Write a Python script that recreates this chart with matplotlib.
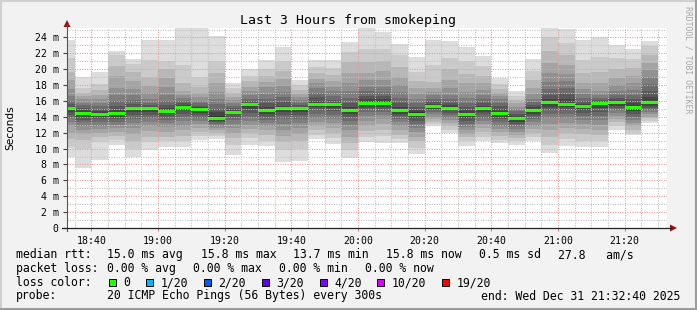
import matplotlib
matplotlib.use("Agg")
import matplotlib.pyplot as plt
from matplotlib.lines import Line2D
from matplotlib.patches import Polygon, Rectangle

plt.rcParams['font.family'] = ['DejaVu Sans Mono']

# ---------------------------------------------------------------
# data
# ---------------------------------------------------------------
# left edge of each 5 min bucket, minutes after 18:00
bucket_min = list(range(30, 210, 5))

# median rtt per bucket (ms)
median_ms = [15.0, 14.4, 14.35, 14.4, 15.0, 15.0, 14.7, 15.2, 14.9, 13.85,
             14.6, 15.5, 14.85, 15.0, 15.0, 15.6, 15.5, 14.8, 15.7, 15.7,
             14.8, 14.35, 15.3, 15.1, 14.25, 15.0, 14.4, 13.75, 14.85, 15.75,
             15.6, 15.3, 15.65, 15.75, 15.15, 15.8]

# 20 pings per bucket (ms), sorted high -> low
smoke_ms = [
    [23.65, 21.4, 19.7, 18.6, 17.5, 16.6, 16.0, 15.6, 15.3, 15.1, 14.9, 14.6, 14.2, 13.8, 13.3, 12.8, 12.0, 11.2, 10.2, 8.9],
    [19.0, 17.6, 17.0, 16.6, 16.2, 15.8, 15.5, 15.1, 14.8, 14.5, 14.3, 14.0, 13.6, 13.3, 12.8, 12.3, 11.8, 11.1, 10.0, 7.6],
    [19.7, 18.1, 17.4, 16.8, 16.3, 15.8, 15.4, 15.0, 14.7, 14.45, 14.25, 14.0, 13.7, 13.3, 12.9, 12.5, 12.0, 11.5, 10.8, 8.6],
    [22.3, 21.8, 20.4, 19.2, 17.6, 16.8, 16.0, 15.4, 14.9, 14.5, 14.3, 14.0, 13.7, 13.4, 13.0, 12.6, 12.1, 11.6, 11.1, 10.5],
    [21.3, 20.7, 19.6, 18.5, 17.5, 16.7, 16.1, 15.6, 15.3, 15.1, 14.9, 14.6, 14.2, 13.7, 13.2, 12.6, 11.9, 11.0, 10.0, 8.9],
    [23.65, 21.1, 19.0, 17.9, 17.0, 16.3, 15.8, 15.5, 15.2, 15.05, 14.9, 14.6, 14.2, 13.8, 13.3, 12.8, 12.2, 11.5, 10.8, 9.85],
    [23.65, 21.0, 20.0, 18.9, 17.8, 16.8, 16.0, 15.5, 15.1, 14.8, 14.6, 14.3, 14.0, 13.6, 13.2, 12.7, 12.1, 11.5, 10.9, 10.2],
    [25.5, 20.5, 18.3, 17.3, 16.8, 16.4, 16.0, 15.7, 15.45, 15.3, 15.1, 14.8, 14.4, 14.0, 13.5, 12.9, 12.3, 11.6, 10.9, 10.2],
    [25.5, 19.0, 17.8, 17.0, 16.5, 16.0, 15.7, 15.4, 15.2, 15.0, 14.8, 14.5, 14.2, 13.9, 13.5, 13.1, 12.6, 12.1, 11.6, 11.1],
    [24.2, 21.0, 19.5, 18.2, 17.1, 16.3, 15.6, 15.0, 14.6, 14.1, 13.75, 13.5, 13.3, 13.1, 12.9, 12.6, 12.3, 12.0, 11.6, 11.2],
    [18.3, 17.6, 17.0, 16.5, 16.1, 15.7, 15.4, 15.1, 14.9, 14.7, 14.5, 14.3, 14.0, 13.6, 13.1, 12.6, 12.0, 11.3, 10.5, 9.2],
    [20.0, 19.2, 18.5, 17.8, 17.2, 16.7, 16.3, 16.0, 15.7, 15.55, 15.4, 15.0, 14.5, 14.0, 13.5, 13.0, 12.5, 12.0, 11.3, 10.5],
    [21.1, 20.0, 19.2, 18.4, 17.7, 16.9, 16.3, 15.8, 15.3, 15.0, 14.7, 14.4, 14.0, 13.6, 13.2, 12.8, 12.3, 11.7, 11.0, 10.3],
    [22.8, 21.0, 19.8, 18.8, 17.9, 17.1, 16.5, 15.9, 15.4, 15.1, 14.9, 14.6, 14.2, 13.7, 13.1, 12.4, 11.6, 10.8, 9.8, 8.25],
    [18.7, 18.0, 17.4, 16.9, 16.5, 16.1, 15.8, 15.5, 15.3, 15.1, 14.9, 14.6, 14.2, 13.7, 13.2, 12.6, 11.9, 11.0, 10.0, 8.45],
    [21.2, 20.3, 19.5, 18.8, 18.2, 17.6, 17.0, 16.5, 16.0, 15.7, 15.5, 15.2, 14.8, 14.4, 13.9, 13.4, 12.8, 12.3, 11.7, 11.2],
    [21.1, 20.2, 19.3, 18.5, 17.8, 17.2, 16.6, 16.1, 15.8, 15.6, 15.4, 15.1, 14.7, 14.2, 13.7, 13.2, 12.6, 12.0, 11.3, 10.6],
    [23.4, 22.2, 20.9, 19.5, 18.3, 17.2, 16.4, 15.8, 15.3, 14.9, 14.7, 14.4, 14.0, 13.5, 13.0, 12.3, 11.5, 10.7, 9.8, 8.8],
    [25.5, 22.5, 20.9, 19.5, 18.6, 17.8, 17.2, 16.6, 16.2, 15.8, 15.6, 15.3, 15.0, 14.6, 14.1, 13.5, 12.9, 12.2, 11.5, 10.8],
    [24.7, 22.5, 21.0, 19.8, 18.7, 17.8, 17.1, 16.6, 16.2, 15.8, 15.6, 15.3, 15.0, 14.6, 14.2, 13.7, 13.1, 12.4, 11.6, 10.7],
    [23.2, 21.8, 20.3, 19.0, 18.0, 17.1, 16.4, 15.8, 15.3, 15.0, 14.7, 14.4, 14.1, 13.7, 13.3, 12.8, 12.3, 11.7, 11.2, 10.65],
    [21.5, 19.6, 18.5, 17.6, 16.9, 16.3, 15.8, 15.3, 14.9, 14.55, 14.2, 13.9, 13.5, 13.1, 12.6, 12.1, 11.5, 10.9, 10.1, 9.3],
    [23.7, 20.5, 18.4, 17.6, 17.1, 16.7, 16.3, 16.0, 15.6, 15.4, 15.2, 15.0, 14.8, 14.6, 14.3, 14.0, 13.7, 13.4, 13.1, 12.9],
    [23.6, 21.4, 20.0, 18.6, 17.6, 16.8, 16.3, 15.8, 15.5, 15.2, 15.0, 14.8, 14.5, 14.2, 13.9, 13.6, 13.2, 12.8, 12.4, 12.0],
    [22.85, 21.0, 19.4, 18.2, 17.1, 16.4, 15.8, 15.3, 14.9, 14.4, 14.1, 13.8, 13.5, 13.1, 12.7, 12.3, 11.9, 11.4, 10.9, 10.3],
    [21.6, 20.4, 19.2, 18.2, 17.4, 16.7, 16.2, 15.8, 15.4, 15.1, 14.9, 14.6, 14.3, 13.9, 13.5, 13.1, 12.6, 12.1, 11.5, 11.0],
    [18.9, 18.1, 17.5, 17.0, 16.6, 16.2, 15.8, 15.4, 15.0, 14.6, 14.3, 14.0, 13.7, 13.3, 12.9, 12.5, 12.1, 11.6, 11.1, 10.65],
    [17.3, 16.6, 16.1, 15.7, 15.3, 15.0, 14.7, 14.4, 14.1, 13.85, 13.65, 13.4, 13.1, 12.8, 12.5, 12.1, 11.7, 11.3, 10.9, 10.4],
    [21.3, 19.8, 18.6, 17.6, 16.9, 16.3, 15.9, 15.5, 15.2, 15.0, 14.7, 14.4, 14.1, 13.7, 13.3, 12.9, 12.5, 12.0, 11.5, 10.95],
    [25.5, 24.0, 22.3, 20.8, 19.5, 18.4, 17.5, 16.8, 16.3, 15.9, 15.6, 15.3, 14.9, 14.4, 13.8, 13.1, 12.3, 11.5, 10.5, 9.4],
    [25.1, 23.3, 21.8, 20.5, 19.4, 18.5, 17.6, 16.9, 16.3, 15.8, 15.5, 15.2, 14.8, 14.3, 13.8, 13.2, 12.6, 12.0, 11.2, 10.3],
    [23.7, 21.2, 19.5, 18.3, 17.5, 16.9, 16.4, 16.0, 15.6, 15.35, 15.2, 14.9, 14.5, 14.1, 13.6, 13.1, 12.5, 11.8, 11.0, 10.15],
    [24.1, 21.5, 19.6, 18.2, 17.3, 16.8, 16.4, 16.1, 15.9, 15.7, 15.5, 15.1, 14.6, 14.1, 13.6, 13.0, 12.4, 11.7, 10.9, 10.15],
    [23.1, 21.4, 20.0, 18.9, 18.0, 17.3, 16.8, 16.4, 16.1, 15.85, 15.65, 15.4, 15.1, 14.8, 14.5, 14.1, 13.7, 13.3, 12.8, 12.4],
    [22.5, 21.3, 20.2, 19.1, 18.2, 17.4, 16.8, 16.2, 15.7, 15.3, 15.0, 14.7, 14.4, 14.0, 13.6, 13.2, 12.8, 12.4, 12.0, 11.65],
    [23.6, 22.9, 21.8, 20.8, 19.9, 19.0, 18.1, 17.2, 16.5, 16.0, 15.7, 15.4, 15.1, 14.8, 14.6, 14.3, 14.0, 13.8, 13.5, 13.2],
]

x_ticks = [40, 60, 80, 100, 120, 140, 160, 180, 200]
x_labels = ["18:40", "19:00", "19:20", "19:40", "20:00", "20:20", "20:40", "21:00", "21:20"]
y_ticks = [0, 2, 4, 6, 8, 10, 12, 14, 16, 18, 20, 22, 24]
y_labels = ["0", "2 m", "4 m", "6 m", "8 m", "10 m", "12 m", "14 m", "16 m", "18 m", "20 m", "22 m", "24 m"]

title = "Last 3 Hours from smokeping"
rtt_text = ["median rtt:", "15.0 ms avg", "15.8 ms max", "13.7 ms min", "15.8 ms now", "0.5 ms sd", "27.8   am/s"]
loss_text = ["packet loss:", "0.00 % avg", "0.00 % max", "0.00 % min", "0.00 % now"]
loss_labels = ["0", "1/20", "2/20", "3/20", "4/20", "10/20", "19/20"]
loss_colors = ["#26ff00", "#00b8ff", "#0059ff", "#5e00ff", "#7e00ff", "#dd00ff", "#ff0000"]
probe_text = ["probe:", "20 ICMP Echo Pings (56 Bytes) every 300s"]
end_text = "end: Wed Dec 31 21:32:40 2025"

# smoke shades, outer pair -> inner pair
smoke_grays = ["#dddddd", "#cacaca", "#b7b7b7", "#a4a4a4", "#919191",
               "#7e7e7e", "#6b6b6b", "#585858", "#454545", "#323232"]

# ---------------------------------------------------------------
W, H = 697, 310
BG = "#f2f2f2"


def fx(px):
    return px / W


def fy(py):
    return 1 - py / H


fig = plt.figure(figsize=(W / 100, H / 100), dpi=100, facecolor=BG)

# plot area: x 67..667 px, y 28..228 px
ax = fig.add_axes([fx(67), fy(228), fx(600), 200 / H])
ax.set_facecolor("white")
ax.set_xlim(32 + 40 / 60, 212 + 40 / 60)
ax.set_ylim(0, 200 / 7.94)

edges = bucket_min + [bucket_min[-1] + 5]
for i, col in enumerate(smoke_grays):
    hi = [p[i] for p in smoke_ms]
    lo = [p[19 - i] for p in smoke_ms]
    ax.fill_between(edges, lo + lo[-1:], hi + hi[-1:], step="post",
                    color=col, linewidth=0, zorder=1)

half = 0.19
m_lo = [m - half for m in median_ms]
m_hi = [m + half for m in median_ms]
ax.fill_between(edges, m_lo + m_lo[-1:], m_hi + m_hi[-1:], step="post",
                color=loss_colors[0], linewidth=0, zorder=2)

# grid (drawn over the smoke, like rrdtool)
minor_y = [v + 1 for v in y_ticks]
minor_x = [t for t in range(35, 215, 5) if t not in x_ticks]
for v in minor_y:
    ax.axhline(v, color="#c4c4c4", lw=0.8, ls=(0, (1, 1.2)), zorder=3)
for t in minor_x:
    ax.axvline(t, color="#c4c4c4", lw=0.8, ls=(0, (1, 1.2)), zorder=3)
for v in y_ticks[1:]:
    ax.axhline(v, color="#eaa0a0", lw=0.8, ls=(0, (1, 1.2)), zorder=3)
for t in x_ticks:
    ax.axvline(t, color="#eaa0a0", lw=0.8, ls=(0, (1, 1.2)), zorder=3)

for s in ax.spines.values():
    s.set_visible(False)

ax.set_yticks(y_ticks)
ax.set_yticklabels(y_labels)
ax.set_xticks(x_ticks)
ax.set_xticklabels(x_labels)
ax.tick_params(axis="y", length=3, width=0.8, color="#444444", pad=3,
               labelsize=7.1, labelcolor="black")
ax.tick_params(axis="x", length=2, width=0.8, color="#e08080", pad=4,
               labelsize=7.1, labelcolor="black")

# axis lines with arrows
fig.add_artist(Line2D([fx(67), fx(67)], [fy(231), fy(24)], color="#555555", lw=0.8))
fig.add_artist(Line2D([fx(62), fx(671)], [fy(228), fy(228)], color="#222222", lw=0.9))
fig.add_artist(Polygon([[fx(67), fy(20)], [fx(63.5), fy(27)], [fx(70.5), fy(27)]],
                       closed=True, color="#9a1010", lw=0))
fig.add_artist(Polygon([[fx(677), fy(228)], [fx(670), fy(224.5)], [fx(670), fy(231.5)]],
                       closed=True, color="#9a1010", lw=0))

# titles
fig.text(fx(348), fy(24), title, ha="center", va="baseline", fontsize=9.5)
fig.text(fx(10.5), fy(127.5), "Seconds", rotation=90, ha="center", va="center",
         fontsize=7.6, family=["DejaVu Sans"])
fig.text(fx(688), fy(60), "RRDTOOL / TOBI OETIKER", rotation=270, ha="center",
         va="center", fontsize=5.9, color="#a8a8a8")

# legend block
fs = 8.3
for s, x in zip(rtt_text, [16, 107.3, 201, 293.3, 386, 479, 558.3]):
    fig.text(fx(x), fy(258), s, ha="left", va="baseline", fontsize=fs)
for s, x in zip(loss_text, [16, 107.3, 193.3, 279.3, 365]):
    fig.text(fx(x), fy(272), s, ha="left", va="baseline", fontsize=fs)
fig.text(fx(16), fy(286), "loss color:", ha="left", va="baseline", fontsize=fs)
box_x = [108.7, 146, 204, 261.7, 320, 377.3, 442]
for lab, col, x in zip(loss_labels, loss_colors, box_x):
    fig.add_artist(Rectangle((fx(x), fy(286)), fx(7), 7 / H, facecolor=col,
                             edgecolor="black", lw=0.7))
    fig.text(fx(x + 14.5), fy(286), lab, ha="left", va="baseline", fontsize=fs)
for s, x in zip(probe_text, [16, 107.3]):
    fig.text(fx(x), fy(299.5), s, ha="left", va="baseline", fontsize=fs)
fig.text(fx(680), fy(299.5), end_text, ha="right", va="baseline", fontsize=fs)

# rrdtool style shaded frame
fig.add_artist(Line2D([0, 1], [fy(0.5), fy(0.5)], color="#d0d0d0", lw=1.5))
fig.add_artist(Line2D([fx(0.5), fx(0.5)], [0, 1], color="#d0d0d0", lw=1.5))
fig.add_artist(Line2D([0, 1], [fy(308.5), fy(308.5)], color="#9c9c9c", lw=2.2))
fig.add_artist(Line2D([fx(695.5), fx(695.5)], [0, 1], color="#9c9c9c", lw=2.2))

fig.savefig("out.png", dpi=100, facecolor=BG)
